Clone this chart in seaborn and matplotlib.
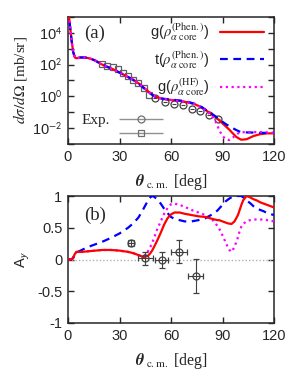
# Cross section (a) and analysing power (b) vs CM angle
import matplotlib
matplotlib.use("Agg")
import matplotlib.pyplot as plt
import matplotlib.ticker as mticker
from matplotlib.container import ErrorbarContainer
from matplotlib.legend_handler import HandlerErrorbar
import numpy as np
import pandas as pd
import seaborn as sns

# ---- panel (a): log10 of cross section [mb/sr] ----
theta_a = [0, 1, 2, 3, 4, 5, 7, 10, 13, 16, 19, 22, 26, 30, 34, 38, 42, 45, 48,
           51, 54, 58, 62, 66, 70, 74, 78, 82, 84, 86, 88, 90, 92, 94, 96, 98,
           100, 101, 104, 108, 112, 116, 120]
xs_red = [5.5, 4.6, 3.6, 2.8, 2.45, 2.4, 2.45, 2.45, 2.38, 2.25, 2.05, 1.9, 1.72,
          1.5, 1.28, 1.05, 0.75, 0.47, 0.2, -0.02, -0.13, -0.2, -0.25, -0.3,
          -0.38, -0.5, -0.7, -1.0, -1.15, -1.3, -1.5, -1.7, -1.9, -2.1, -2.33,
          -2.55, -2.68, -2.73, -2.7, -2.5, -2.38, -2.33, -2.33]
xs_blue = [5.5, 4.6, 3.6, 2.8, 2.45, 2.4, 2.45, 2.45, 2.38, 2.25, 2.05, 1.9, 1.72,
           1.5, 1.28, 1.03, 0.72, 0.44, 0.17, -0.04, -0.13, -0.18, -0.22, -0.27,
           -0.35, -0.47, -0.68, -0.98, -1.12, -1.26, -1.43, -1.6, -1.75, -1.88,
           -2.0, -2.12, -2.22, -2.25, -2.27, -2.28, -2.3, -2.3, -2.3]
xs_mag = [5.5, 4.6, 3.6, 2.8, 2.45, 2.4, 2.45, 2.45, 2.38, 2.25, 2.05, 1.9, 1.72,
          1.5, 1.28, 1.05, 0.75, 0.47, 0.2, -0.02, -0.13, -0.2, -0.25, -0.3,
          -0.38, -0.5, -0.72, -1.05, -1.25, -1.6, -2.1, -2.5, -2.7, -2.75,
          -2.6, -2.4, -2.28, -2.26, -2.25, -2.25, -2.25, -2.27, -2.3]

# experimental cross sections (log10)
sq_theta = [19.6, 23, 26, 29, 32, 35, 38, 41, 44, 47]
sq_logxs = [2.04, 1.93, 1.82, 1.72, 1.47, 1.28, 1.05, 0.82, 0.55, 0.1]
ci_theta = [50.5, 56.5, 61.7, 66.8, 72, 77, 82.3, 87.6]
ci_logxs = [-0.12, -0.38, -0.45, -0.56, -0.77, -0.94, -1.19, -1.4]

# ---- panel (b): analysing power ----
theta_b = [0, 2, 3, 4, 5, 8, 12, 16, 20, 25, 30, 35, 38, 41, 43, 44, 46, 47,
           48, 49, 50, 52, 54, 56, 58, 60, 62, 65, 68, 72, 76, 80, 84, 87, 88,
           90, 92, 93, 94, 95.3, 97, 99, 100, 101, 102, 104, 106, 108, 110,
           112, 114, 116, 120]
ay_red = [0, 0, 0.02, 0.09, 0.12, 0.12, 0.13, 0.14, 0.15, 0.15, 0.14, 0.12,
          0.1, 0.07, 0.05, 0.04, 0.05, 0.07, 0.1, 0.14, 0.19, 0.3, 0.42, 0.55,
          0.65, 0.71, 0.74, 0.74, 0.72, 0.7, 0.68, 0.67, 0.64, 0.62, 0.62, 0.6,
          0.58, 0.57, 0.565, 0.56, 0.6, 0.7, 0.78, 0.86, 0.93, 1.0, 0.98, 0.95,
          0.93, 0.9, 0.88, 0.86, 0.82]
ay_blue = [0, 0, 0.03, 0.08, 0.11, 0.15, 0.2, 0.24, 0.28, 0.34, 0.41, 0.5,
           0.57, 0.66, 0.75, 0.8, 0.9, 0.95, 0.98, 1.0, 0.99, 0.95, 0.88, 0.8,
           0.73, 0.67, 0.64, 0.62, 0.6, 0.6, 0.62, 0.65, 0.71, 0.77, 0.8, 0.86,
           0.92, 0.94, 0.96, 0.98, 1.0, 1.0, 1.0, 1.0, 0.98, 0.93, 0.89, 0.84,
           0.8, 0.78, 0.76, 0.73, 0.7]
ay_mag = [0, 0, 0.02, 0.09, 0.12, 0.12, 0.13, 0.14, 0.15, 0.15, 0.14, 0.12,
          0.1, 0.07, 0.05, 0.05, 0.1, 0.15, 0.2, 0.26, 0.33, 0.48, 0.6, 0.72,
          0.81, 0.87, 0.88, 0.86, 0.83, 0.78, 0.74, 0.7, 0.63, 0.53, 0.49,
          0.38, 0.26, 0.2, 0.15, 0.12, 0.2, 0.35, 0.45, 0.52, 0.56, 0.6, 0.62,
          0.63, 0.63, 0.63, 0.63, 0.62, 0.6]

ay_theta = [36.7, 45, 54.5, 64.6, 74.4]
ay_val = [0.26, 0.02, -0.01, 0.12, -0.26]
ay_yerr = [0.04, 0.1, 0.13, 0.18, 0.27]
ay_xerr = [1.5, 4.4, 3.9, 4.5, 4.4]

labels = [r"g($\rho^{\mathrm{(Phen.)}}_{\alpha\ \mathrm{core}}$)",
          r"t($\rho^{\mathrm{(Phen.)}}_{\alpha\ \mathrm{core}}$)",
          r"g($\rho^{\mathrm{(HF)}}_{\alpha\ \mathrm{core}}$)"]
colors = ["#ff0000", "#0000ff", "#ff00ff"]
styles = ["-", (0, (3.5, 2.5)), (0, (1, 1.6))]

sns.set_theme(style="ticks", rc={
    "axes.linewidth": 1.1,
    "xtick.direction": "in", "ytick.direction": "in",
    "xtick.top": True, "ytick.right": True,
    "xtick.major.size": 4.5, "ytick.major.size": 4.5,
    "xtick.major.width": 1.0, "ytick.major.width": 1.0,
    "xtick.labelsize": 10.5, "ytick.labelsize": 10.5,
    "axes.unicode_minus": False,
    "mathtext.fontset": "stix",
})
plt.rcParams["font.family"] = ["Liberation Sans", "DejaVu Sans"]

fig = plt.figure(figsize=(2.91, 3.82), dpi=100)
ax_a = fig.add_axes([68 / 291, 1 - 144 / 382, 206 / 291, 127 / 382])
ax_b = fig.add_axes([68 / 291, 1 - 323 / 382, 206 / 291, 127 / 382])

serif = ["Liberation Serif", "DejaVu Serif"]
xlab = r"$\boldsymbol{\theta}_{\mathrm{\ c.m.}}$ [deg]"

# ---------- (a) ----------
curves_a = pd.DataFrame({"theta": theta_a, "red": xs_red, "blue": xs_blue, "mag": xs_mag})
ax_a.errorbar(sq_theta, 10 ** np.array(sq_logxs), fmt="s", ms=5, mfc="none",
              mec="#606060", mew=0.9, zorder=2)
ax_a.errorbar(ci_theta, 10 ** np.array(ci_logxs), xerr=1.2, fmt="o", ms=5,
              mfc="none", mec="#404040", ecolor="#404040", elinewidth=0.8,
              mew=0.9, zorder=2)
for key, lab, col, ls in zip(["red", "blue", "mag"], labels, colors, styles):
    sns.lineplot(x=curves_a["theta"], y=10 ** curves_a[key], ax=ax_a, color=col,
                 linestyle=ls, lw=1.6, label=lab, zorder=3)

ax_a.set_yscale("log")
ax_a.set_xlim(0, 120)
ax_a.set_ylim(1e-3, 1e5)
ax_a.set_xticks([0, 30, 60, 90, 120])
ax_a.yaxis.set_major_locator(mticker.LogLocator(base=10, numticks=20))
ax_a.yaxis.set_minor_locator(mticker.NullLocator())
ax_a.yaxis.set_major_formatter(mticker.FuncFormatter(
    lambda v, p: ("10$^{\\mathsf{%d}}$" % round(np.log10(v))) if round(np.log10(v)) % 2 == 0
    and -2 <= round(np.log10(v)) <= 4 else ""))
ax_a.set_xlabel(xlab, family=serif, fontsize=11.5, labelpad=6)
ax_a.set_ylabel(r"$d\sigma/d\Omega$ [mb/sr]", family=serif, fontsize=11, labelpad=2)
ax_a.text(0.08, 0.875, "(a)", transform=ax_a.transAxes, family=serif,
          fontsize=13.5, va="center")

leg1 = ax_a.legend(loc="upper right", bbox_to_anchor=(0.985, 1.02), frameon=False,
                   markerfirst=False, fontsize=10.5, handlelength=3.0,
                   handletextpad=0.7, labelspacing=0.4, borderaxespad=0.1)
ax_a.add_artist(leg1)

# experimental legend
proxy_c = ax_a.errorbar([], [], xerr=[], fmt="o", ms=5, mfc="none", mec="#707070",
                        ecolor="#909090", capsize=2.5, elinewidth=1.0, mew=0.9)
proxy_s = ax_a.errorbar([], [], xerr=[], fmt="s", ms=5, mfc="none", mec="#707070",
                        ecolor="#909090", capsize=2.5, elinewidth=1.0, mew=0.9)
ax_a.legend([proxy_c, proxy_s], ["Exp.", ""], loc="lower left",
            bbox_to_anchor=(0.0, -0.085), frameon=False, markerfirst=False,
            handlelength=3.0, handletextpad=0.5, labelspacing=0.0,
            prop={"family": serif, "size": 11},
            handler_map={ErrorbarContainer: HandlerErrorbar(xerr_size=1.45)})

# ---------- (b) ----------
curves_b = pd.DataFrame({"theta": theta_b, "red": ay_red, "blue": ay_blue, "mag": ay_mag})
ax_b.axhline(0, color="#b0b0b0", ls=(0, (1, 1.5)), lw=1.0, zorder=1)
for key, col, ls in zip(["mag", "blue", "red"], colors[::-1], styles[::-1]):
    sns.lineplot(x=curves_b["theta"], y=curves_b[key], ax=ax_b, color=col,
                 linestyle=ls, lw=1.6, zorder=3)
ax_b.errorbar(ay_theta, ay_val, xerr=ay_xerr, yerr=ay_yerr, fmt="o", ms=5,
              mfc="none", mec="#404040", ecolor="#404040", elinewidth=0.8,
              capsize=2.5, mew=0.9, zorder=4)
ax_b.set_xlim(0, 120)
ax_b.set_ylim(-1, 1)
ax_b.set_xticks([0, 30, 60, 90, 120])
ax_b.set_yticks([-1, -0.5, 0, 0.5, 1])
ax_b.set_yticklabels(["-1", "-0.5", "0", "0.5", "1"])
ax_b.set_xlabel(xlab, family=serif, fontsize=11.5, labelpad=6)
ax_b.set_ylabel(r"A$_{\mathsf{y}}$", fontsize=10.5, labelpad=4)
ax_b.text(0.08, 0.85, "(b)", transform=ax_b.transAxes, family=serif,
          fontsize=13.5, va="center")

for ax in (ax_a, ax_b):
    ax.tick_params(which="both", top=True, right=True, direction="in", pad=4)
    for s in ax.spines.values():
        s.set_visible(True)

fig.savefig("out.png", dpi=100)
